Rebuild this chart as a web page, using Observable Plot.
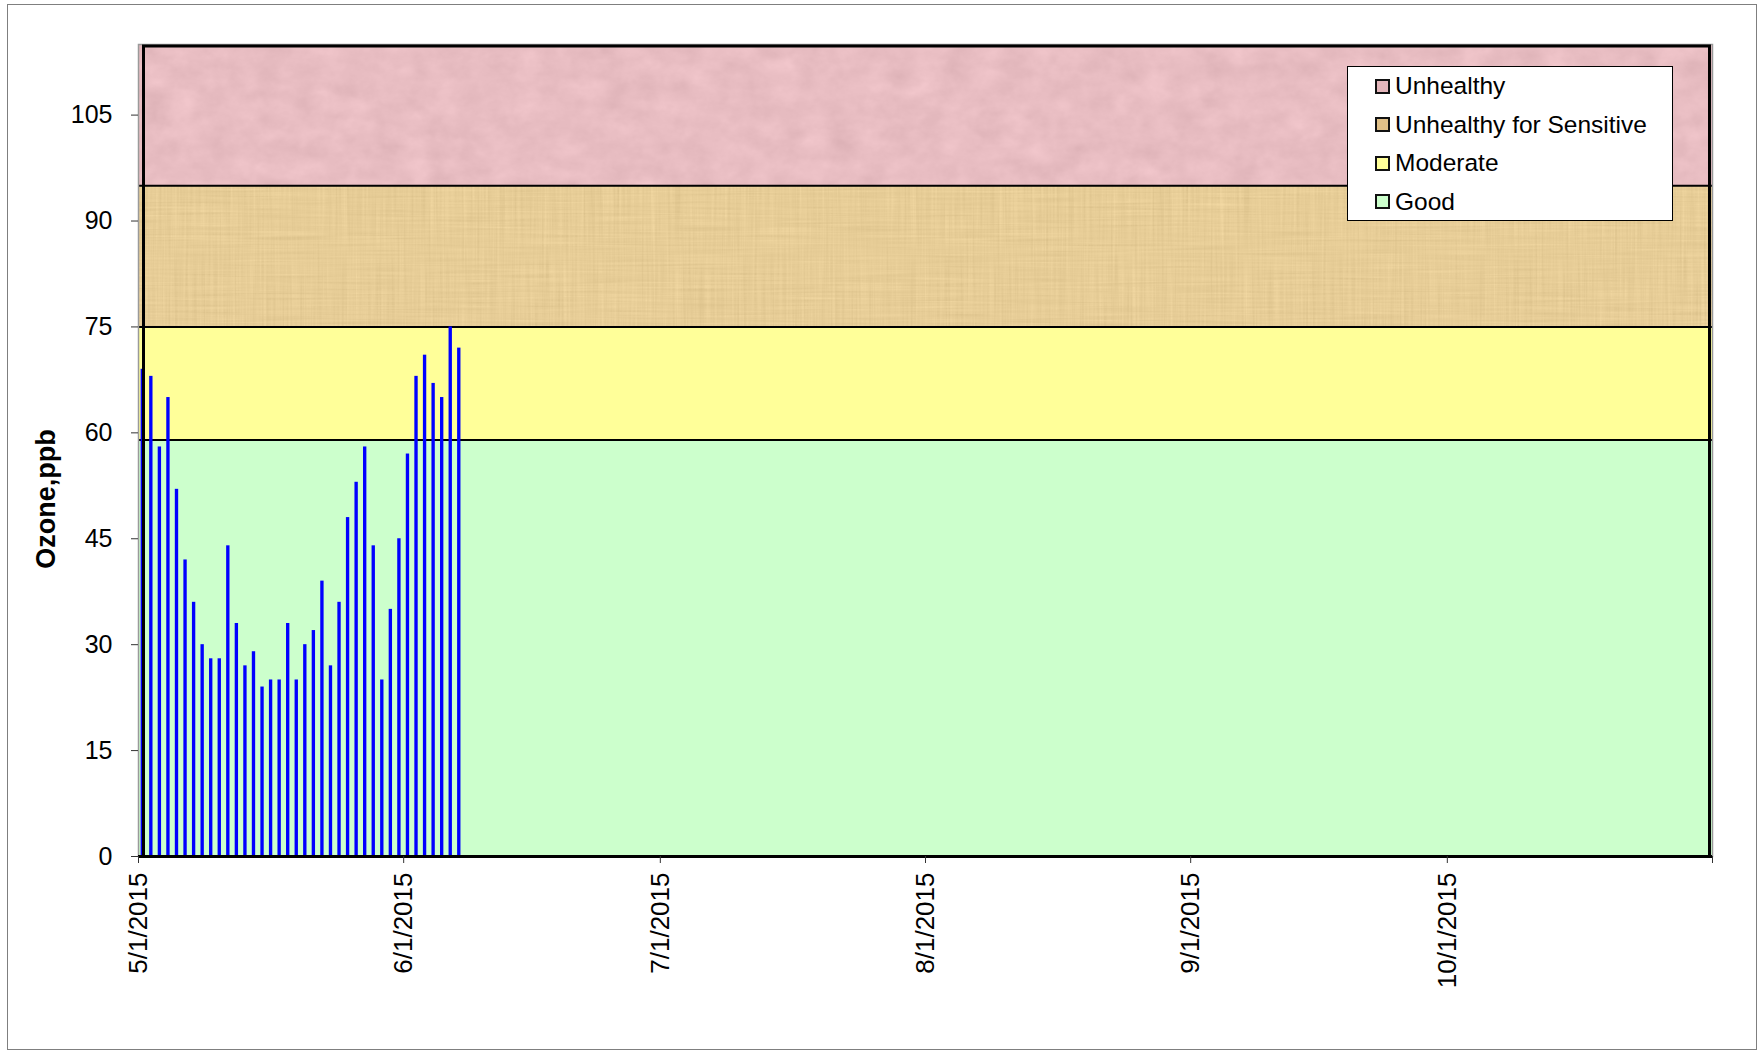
<!DOCTYPE html>
<html>
<head>
<meta charset="utf-8">
<script src="https://cdn.jsdelivr.net/npm/d3@7"></script>
<script src="https://cdn.jsdelivr.net/npm/@observablehq/plot@0.6"></script>
<style>
html, body { margin: 0; padding: 0; background: #fff; }
#wrap { position: relative; width: 1758px; height: 1053px; overflow: hidden; font-family: "Liberation Sans", Arial, sans-serif; }
#outer { position: absolute; left: 7px; top: 4px; width: 1750px; height: 1046px; border: 1.5px solid #7f7f7f; box-sizing: border-box; pointer-events: none; }
#chart { position: absolute; left: 0; top: 0; }
#ytitle { position: absolute; left: 46px; top: 499px; transform: translate(-50%, -50%) rotate(-90deg); font-weight: bold; font-size: 27px; white-space: nowrap; color: #000; }
#legend { position: absolute; left: 1347px; top: 66px; width: 326px; height: 155px; border: 1px solid #000; background: #fff; box-sizing: border-box; }
.item { height: 38.5px; display: flex; align-items: center; font-size: 24.5px; color: #000; }
.sw { width: 11px; height: 11px; border: 2px solid #111; margin-left: 27px; margin-right: 5px; flex: none; }
</style>
</head>
<body>
<div id="wrap">
  <div id="chart"></div>
  <div id="ytitle"></div>
  <div id="legend"></div>
  <div id="outer"></div>
</div>
<script>
// ---- data ----
const dates = [
  "2015-05-01","2015-05-02","2015-05-03","2015-05-04","2015-05-05","2015-05-06","2015-05-07","2015-05-08",
  "2015-05-09","2015-05-10","2015-05-11","2015-05-12","2015-05-13","2015-05-14","2015-05-15","2015-05-16",
  "2015-05-17","2015-05-18","2015-05-19","2015-05-20","2015-05-21","2015-05-22","2015-05-23","2015-05-24",
  "2015-05-25","2015-05-26","2015-05-27","2015-05-28","2015-05-29","2015-05-30","2015-05-31",
  "2015-06-01","2015-06-02","2015-06-03","2015-06-04","2015-06-05","2015-06-06","2015-06-07"
];
const ozone = [
  69, 68, 58, 65, 52, 42, 36, 30,
  28, 28, 44, 33, 27, 29, 24, 25,
  25, 33, 25, 30, 32, 39, 27, 36,
  48, 53, 58, 44, 25, 35, 45,
  57, 68, 71, 67, 65, 75, 72
];
const bandNames = ["Good", "Moderate", "Unhealthy for Sensitive", "Unhealthy"];
const bandLow = [0, 59, 75, 95];
const bandHigh = [59, 75, 95, 115];
const bandColors = ["#CCFFCC", "#FFFF99", "#E7CD97", "#E8BDC2"];
const legendColors = ["#CCFFCC", "#FFFF99", "#E0C088", "#E4B6BB"];
const boundaries = [59, 75, 95];
const yTicks = [0, 15, 30, 45, 60, 75, 90, 105];
const xTicks = ["2015-05-01","2015-06-01","2015-07-01","2015-08-01","2015-09-01","2015-10-01","2015-11-01"];
const xTickLabels = ["5/1/2015","6/1/2015","7/1/2015","8/1/2015","9/1/2015","10/1/2015",""];
const xDomain = ["2015-05-01", "2015-11-01"];
const yTitle = "Ozone,ppb";

// ---- build ----
const parse = d3.utcParse("%Y-%m-%d");
const data = dates.map((d, i) => ({date: parse(d), value: ozone[i]}));
const bands = bandNames.map((n, i) => ({name: n, lo: bandLow[i], hi: bandHigh[i], color: bandColors[i]}));
const tickDates = xTicks.map(parse);
const labelOf = new Map(tickDates.map((d, i) => [+d, xTickLabels[i]]));

const chart = Plot.plot({
  width: 1758,
  height: 1053,
  marginLeft: 138,
  marginRight: 46,
  marginTop: 44,
  marginBottom: 197,
  style: {fontFamily: "'Liberation Sans', Arial, sans-serif", background: "transparent", color: "#000", overflow: "visible"},
  x: {type: "utc", domain: xDomain.map(parse)},
  y: {domain: [0, 115]},
  marks: [
    Plot.rect(bands, {y1: "lo", y2: "hi", fill: "color"}),
    Plot.ruleY(boundaries, {stroke: "#000", strokeWidth: 2}),
    Plot.rectY(data, {
      x1: "date",
      x2: d => d3.utcDay.offset(d.date, 1),
      y: "value",
      fill: "#0000FF",
      insetLeft: 2.6,
      insetRight: 2.6
    }),
    Plot.frame({stroke: "#9a9a9a", strokeWidth: 1.5}),
    Plot.frame({stroke: "#000", strokeWidth: 3, insetLeft: 5, insetRight: 3, insetTop: 1.5, insetBottom: 0}),
    Plot.ruleY([0], {stroke: "#000", strokeWidth: 3}),
    Plot.axisY({ticks: yTicks, tickSize: 7, tickPadding: 19, fontSize: 25, label: null, stroke: "#333"}),
    Plot.axisX({ticks: tickDates, tickSize: 7, tickPadding: 9, tickRotate: -90, fontSize: 26, label: null,
      tickFormat: d => labelOf.get(+d) ?? "", stroke: "#333"})
  ]
});

// textures for the upper bands
const svgNS = "http://www.w3.org/2000/svg";
const defs = document.createElementNS(svgNS, "defs");
defs.innerHTML = `
<filter id="texPink" x="0" y="0" width="1" height="1" color-interpolation-filters="sRGB">
  <feTurbulence type="fractalNoise" baseFrequency="0.035 0.05" numOctaves="4" seed="5" result="n"/>
  <feColorMatrix in="n" type="matrix" values="0.33 0.33 0.33 0 0  0.33 0.33 0.33 0 0  0.33 0.33 0.33 0 0  0 0 0 0 1" result="g"/>
  <feComposite in="SourceGraphic" in2="g" operator="arithmetic" k1="0" k2="1" k3="0.16" k4="-0.08" result="c"/>
  <feComposite in="c" in2="SourceGraphic" operator="in"/>
</filter>
<filter id="texTan" x="0" y="0" width="1" height="1" color-interpolation-filters="sRGB">
  <feTurbulence type="fractalNoise" baseFrequency="0.45 0.012" numOctaves="2" seed="3" result="v"/>
  <feTurbulence type="fractalNoise" baseFrequency="0.012 0.45" numOctaves="2" seed="9" result="h"/>
  <feComposite in="v" in2="h" operator="arithmetic" k2="0.5" k3="0.5" result="vh"/>
  <feColorMatrix in="vh" type="matrix" values="0.33 0.33 0.33 0 0  0.33 0.33 0.33 0 0  0.33 0.33 0.33 0 0  0 0 0 0 1" result="g"/>
  <feComposite in="SourceGraphic" in2="g" operator="arithmetic" k1="0" k2="1" k3="0.22" k4="-0.11" result="c"/>
  <feComposite in="c" in2="SourceGraphic" operator="in"/>
</filter>`;
chart.insertBefore(defs, chart.firstChild);
const bandRects = chart.querySelectorAll("g[aria-label='rect'] rect");
if (bandRects.length >= 4) {
  bandRects[2].setAttribute("filter", "url(#texTan)");
  bandRects[3].setAttribute("filter", "url(#texPink)");
}

document.getElementById("chart").appendChild(chart);
document.getElementById("ytitle").textContent = yTitle;

// legend (top to bottom: most severe first)
const legend = document.getElementById("legend");
for (let i = bandNames.length - 1; i >= 0; i--) {
  const row = document.createElement("div");
  row.className = "item";
  const sw = document.createElement("span");
  sw.className = "sw";
  sw.style.background = legendColors[i];
  const t = document.createElement("span");
  t.textContent = bandNames[i];
  row.appendChild(sw);
  row.appendChild(t);
  legend.appendChild(row);
}
</script>
</body>
</html>
